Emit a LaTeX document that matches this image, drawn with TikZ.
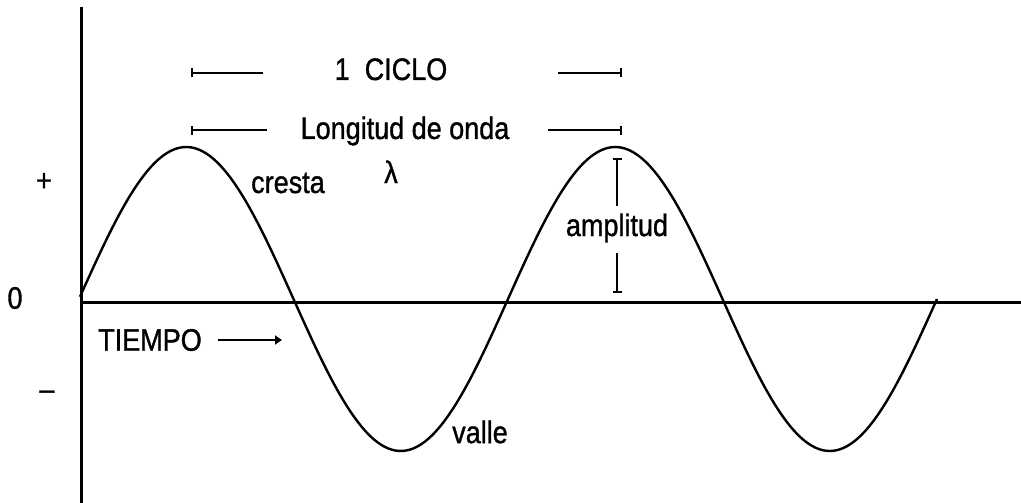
\documentclass[tikz,border=0pt]{standalone}
\usepackage{fontspec}
\setmainfont{Liberation Sans}[FakeBold=1.2]
\usetikzlibrary{arrows.meta}
\newcommand{\tall}[1]{\scalebox{1}[1.15]{#1}}
\tikzset{
  lbl/.style={font=\fontsize{27}{30}\selectfont, inner sep=0pt},
  axis/.style={line width=3pt},
  wave/.style={line width=2.4pt},
  dim/.style={line width=2.2pt},
  barend/.style={-{Bar[width=9pt,line width=2.2pt]}},
  barstart/.style={{Bar[width=9pt,line width=2.2pt]}-},
}
\begin{document}
\begin{tikzpicture}[x=1pt,y=-1pt]
\useasboundingbox (0,0) rectangle (1021,503);
% axes
\coordinate (vtop) at (81,7);
\coordinate (vbot) at (81,503);
\coordinate (hl) at (81,302);
\coordinate (hr) at (1021,302);
\draw[axis] (vtop) -- (vbot);
\draw[axis] (hl) -- (hr);
% wave
\draw[wave, line join=round] plot[domain=80:937, samples=240, smooth] (\x, {299-152*sin(0.839161*(\x-79))});
% axis labels
\node[lbl] (plus) at (44,182) {\tall{+}};
\node[lbl] (zero) at (15,298) {\tall{0}};
\node[lbl] (minus) at (47,395) {\tall{--}};
% 1 CICLO
\node[lbl, anchor=base] (ciclo) at (391,80) {\tall{1\ \ CICLO}};
\coordinate (c1a) at (191,73);
\coordinate (c1b) at (263,73);
\coordinate (c2a) at (558,73);
\coordinate (c2b) at (622,73);
\draw[dim, barstart] (c1a) -- (c1b);
\draw[dim, barend] (c2a) -- (c2b);
% Longitud de onda
\node[lbl, anchor=base] (long) at (405,139) {\tall{Longitud de onda}};
\coordinate (l1a) at (191,130);
\coordinate (l1b) at (267,130);
\coordinate (l2a) at (548,130);
\coordinate (l2b) at (622,130);
\draw[dim, barstart] (l1a) -- (l1b);
\draw[dim, barend] (l2a) -- (l2b);
\node[lbl, anchor=base] (lambda) at (391,183) {\tall{λ}};
% cresta
\node[lbl, anchor=base] (cresta) at (288,193) {\tall{cresta}};
% amplitud
\node[lbl] (ampl) at (617,228) {\tall{amplitud}};
\coordinate (a1) at (617,158);
\coordinate (a2) at (617,206);
\coordinate (a3) at (617,253);
\coordinate (a4) at (617,293);
\draw[dim, barstart] (a1) -- (a2);
\draw[dim, barend] (a3) -- (a4);
% valle
\node[lbl] (valle) at (480,432) {\tall{valle}};
% TIEMPO
\node[lbl] (tiempo) at (150,340) {\tall{TIEMPO}};
\coordinate (t1) at (218,340);
\coordinate (t2) at (282,340);
\draw[dim, -{Triangle[length=7pt,width=9pt]}] (t1) -- (t2);
\end{tikzpicture}
\end{document}
